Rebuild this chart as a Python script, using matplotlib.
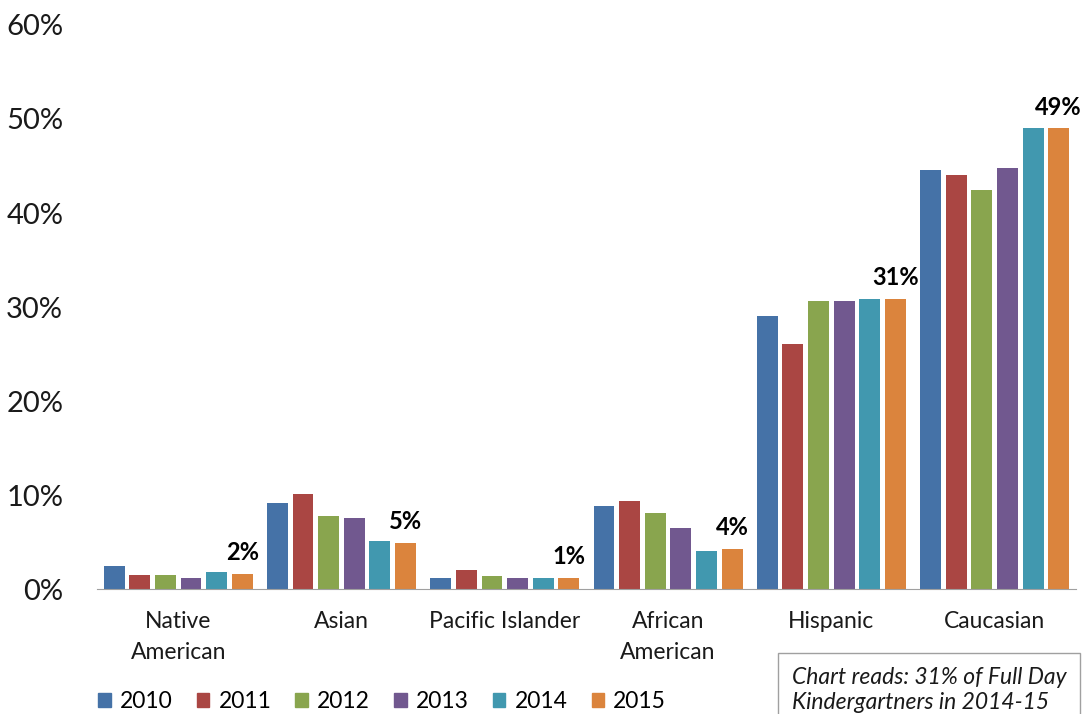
import numpy as np
import matplotlib
matplotlib.use("Agg")
import matplotlib.pyplot as plt
from matplotlib.patches import Patch

plt.rcParams['font.family'] = ['Lato', 'DejaVu Sans']

# data (percent)
groups = ["Native\nAmerican", "Asian", "Pacific Islander", "African\nAmerican", "Hispanic", "Caucasian"]
years = ["2010", "2011", "2012", "2013", "2014", "2015"]
v2010 = [2.4, 9.2, 1.2, 8.8, 29.0, 44.6]
v2011 = [1.5, 10.1, 2.0, 9.4, 26.1, 44.0]
v2012 = [1.5, 7.8, 1.4, 8.1, 30.6, 42.4]
v2013 = [1.2, 7.6, 1.2, 6.5, 30.6, 44.8]
v2014 = [1.8, 5.1, 1.2, 4.1, 30.9, 49.0]
v2015 = [1.6, 4.9, 1.2, 4.3, 30.9, 49.0]
series = [v2010, v2011, v2012, v2013, v2014, v2015]
colors = ["#4572A7", "#AA4643", "#89A54E", "#71588F", "#4198AF", "#DB843D"]

fig = plt.figure(figsize=(10.91, 7.14), dpi=100)
ax = fig.add_axes([0.0885, 0.175, 0.898, 0.79])

x = np.arange(len(groups))
pitch = 0.157
width = 0.128
for i, vals in enumerate(series):
    ax.bar(x + (i - 2.5) * pitch, vals, width, color=colors[i], label=years[i])

# labels on the 2015 bars
for xi, v in zip(x, v2015):
    ax.annotate("%d%%" % round(v), (xi + 2.5 * pitch, v), xytext=(0, 7),
                textcoords="offset points", ha="center", va="bottom",
                fontsize=17, fontweight="bold", color="black")

ax.set_xlim(-0.5, 5.5)
ax.set_ylim(0, 60)
ax.set_yticks(range(0, 61, 10))
ax.set_yticklabels(["%d%%" % t for t in range(0, 61, 10)], fontsize=21)
ax.set_xticks(x)
ax.set_xticklabels(groups, fontsize=16.5, linespacing=1.6)
ax.tick_params(axis="both", length=0, colors="#1a1a1a")
ax.tick_params(axis="y", pad=24)
ax.tick_params(axis="x", pad=16)
for s in ["top", "right", "left"]:
    ax.spines[s].set_visible(False)
ax.spines["bottom"].set_color("#A0A0A0")

handles = [Patch(color=c, label=y) for c, y in zip(colors, years)]
fig.legend(handles=handles, loc="lower left", bbox_to_anchor=(0.071, -0.026),
           ncol=6, frameon=False, fontsize=16.5, handlelength=0.55, handleheight=0.55,
           handletextpad=0.4, columnspacing=1.05)

fig.text(0.726, 0.066, "Chart reads: 31% of Full Day\nKindergartners in 2014-15",
         fontsize=16.5, style="italic", va="top", ha="left", linespacing=1.25,
         color="#1a1a1a",
         bbox=dict(boxstyle="square,pad=0.6", facecolor="white", edgecolor="#A0A0A0"))

fig.savefig("out.png", dpi=100)
